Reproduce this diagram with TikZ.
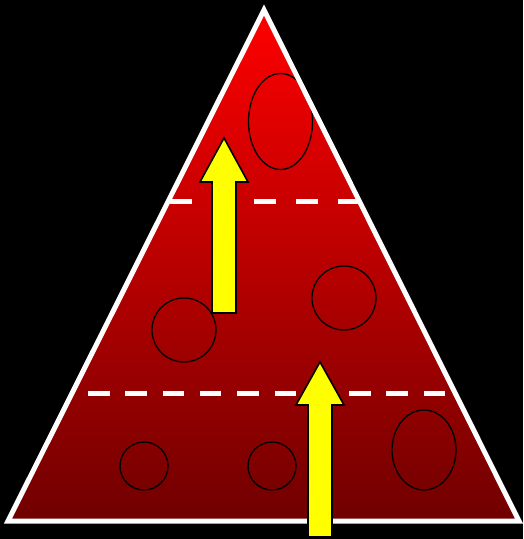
\documentclass[tikz,border=0pt]{standalone}
\usepackage{tikz}

\definecolor{pyrtop}{RGB}{255,0,0}
\definecolor{pyrbot}{RGB}{112,0,0}
\definecolor{arrowyel}{RGB}{255,255,0}

\tikzset{
  tier/.style={white, line width=5pt},
  cell/.style={black, line width=1.3pt},
  uparrow/.style={fill=arrowyel, draw=black, line width=1.6pt, line join=miter}
}

\begin{document}
\begin{tikzpicture}[x=1pt,y=-1pt]
  \fill[black] (0,0) rectangle (523,539);
  \useasboundingbox (0,0) rectangle (523,539);
  % pyramid
  \shade[top color=pyrtop, bottom color=pyrbot] (264,10) -- (519,521) -- (8,521) -- cycle;
  % tier lines
  \draw[tier, dash pattern=on 22pt off 20pt] (170,201) -- (360,201);
  \draw[tier, dash pattern=on 21.5pt off 15.8pt] (88,393) -- (446,393);
  % cells
  \draw[cell] (280.5,121.5) ellipse [x radius=32, y radius=48];
  \draw[cell] (344,298) circle [radius=32];
  \draw[cell] (184,330) circle [radius=32];
  \draw[cell] (144,466) circle [radius=24];
  \draw[cell] (272,466) circle [radius=24];
  \draw[cell] (424,450) ellipse [x radius=32, y radius=40];
  % outline
  \draw[white, line width=5pt, line join=miter] (264,10) -- (519,521) -- (8,521) -- cycle;
  % arrows
  \draw[uparrow] (224,138) -- (248,182) -- (236,182) -- (236,313)
    -- (212,313) -- (212,182) -- (200,182) -- cycle;
  \draw[uparrow] (320,362) -- (344,405) -- (332,405) -- (332,537)
    -- (308,537) -- (308,405) -- (296,405) -- cycle;
\end{tikzpicture}
\end{document}
